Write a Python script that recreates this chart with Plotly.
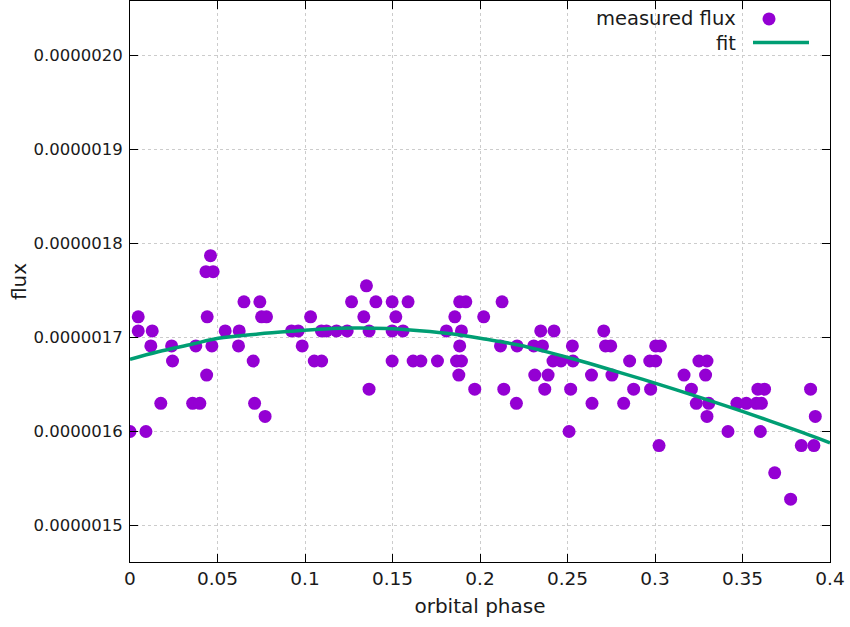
import plotly.graph_objects as go

# measured data (orbital phase, flux in units of 1e-6)
phase = [0.0000, 0.0047, 0.0047, 0.0091, 0.0127, 0.0119, 0.0176, 0.0238, 0.0243, 0.0358,
         0.0399, 0.0376, 0.0441, 0.0434, 0.0475, 0.0460, 0.0438, 0.0468, 0.0544, 0.0624,
         0.0620, 0.0651, 0.0704, 0.0712, 0.0772, 0.0742, 0.0752, 0.0780, 0.0923, 0.0961,
         0.0984, 0.1032, 0.1053, 0.1095, 0.1094, 0.1123, 0.1180, 0.1241, 0.1266, 0.1351,
         0.1336, 0.1366, 0.1405, 0.1366, 0.1498, 0.1519, 0.1498, 0.1560, 0.1589, 0.1498,
         0.1618, 0.1662, 0.1757, 0.1808, 0.1856, 0.1884, 0.1919, 0.1894, 0.1884, 0.1866,
         0.1894, 0.1879, 0.2021, 0.2126, 0.1970, 0.2117, 0.2212, 0.2136, 0.2208, 0.2347,
         0.2423, 0.2307, 0.2357, 0.2417, 0.2463, 0.2528, 0.2531, 0.2313, 0.2389, 0.2370,
         0.2518, 0.2509, 0.2637, 0.2640, 0.2707, 0.2717, 0.2747, 0.2754, 0.2821, 0.2855,
         0.2878, 0.3004, 0.3031, 0.2970, 0.3004, 0.2975, 0.3023, 0.3166, 0.3208, 0.3251,
         0.3297, 0.3289, 0.3236, 0.3307, 0.3297, 0.3417, 0.3468, 0.3522, 0.3579, 0.3608,
         0.3588, 0.3626, 0.3602, 0.3684, 0.3775, 0.3836, 0.3908, 0.3889, 0.3916]
flux_e6 = [1.600, 1.722, 1.707, 1.600, 1.707, 1.691, 1.630, 1.691, 1.675, 1.630,
           1.630, 1.691, 1.722, 1.770, 1.770, 1.787, 1.660, 1.691, 1.707, 1.707,
           1.691, 1.738, 1.675, 1.630, 1.616, 1.738, 1.722, 1.722, 1.707, 1.707,
           1.691, 1.722, 1.675, 1.675, 1.707, 1.707, 1.707, 1.707, 1.738, 1.755,
           1.722, 1.707, 1.738, 1.645, 1.738, 1.722, 1.707, 1.707, 1.738, 1.675,
           1.675, 1.675, 1.675, 1.707, 1.722, 1.738, 1.738, 1.707, 1.691, 1.675,
           1.675, 1.660, 1.722, 1.738, 1.645, 1.691, 1.691, 1.645, 1.630, 1.707,
           1.707, 1.691, 1.691, 1.675, 1.675, 1.691, 1.675, 1.660, 1.660, 1.645,
           1.645, 1.600, 1.660, 1.630, 1.707, 1.691, 1.691, 1.660, 1.630, 1.675,
           1.645, 1.691, 1.691, 1.675, 1.675, 1.645, 1.585, 1.660, 1.645, 1.675,
           1.675, 1.660, 1.630, 1.630, 1.616, 1.600, 1.630, 1.630, 1.630, 1.630,
           1.645, 1.645, 1.600, 1.556, 1.528, 1.585, 1.585, 1.645, 1.616]

# fitted curve
fit_phase = [0.0000, 0.0161, 0.0352, 0.0504, 0.0732, 0.0923, 0.1113, 0.1275, 0.1466,
             0.1656, 0.1846, 0.2037, 0.2227, 0.2360, 0.2551, 0.2741, 0.2931, 0.3100,
             0.3274, 0.3465, 0.3655, 0.3845, 0.4000]
fit_flux_e6 = [1.6768, 1.6849, 1.6928, 1.6991, 1.7037, 1.7066, 1.7090, 1.7100, 1.7095,
               1.7072, 1.7037, 1.6981, 1.6918, 1.6858, 1.6763, 1.6660, 1.6554, 1.6456,
               1.6352, 1.6236, 1.6114, 1.5987, 1.5879]

y_ticks_e6 = [1.5, 1.6, 1.7, 1.8, 1.9, 2.0]
x_ticks = [0, 0.05, 0.1, 0.15, 0.2, 0.25, 0.3, 0.35, 0.4]
x_tick_labels = ["0", "0.05", "0.1", "0.15", "0.2", "0.25", "0.3", "0.35", "0.4"]
series_names = ["measured flux", "fit"]

PURPLE = "#9400D3"
GREEN = "#009E73"
FONT = "DejaVu Sans"
TXT = "#1a1a1a"

flux = [v * 1e-6 for v in flux_e6]
fit_flux = [v * 1e-6 for v in fit_flux_e6]
y_ticks = [v * 1e-6 for v in y_ticks_e6]

fig = go.Figure()
fig.add_trace(go.Scatter(x=phase, y=flux, mode="markers", name=series_names[0],
                         marker=dict(color=PURPLE, size=13, line=dict(width=0)),
                         showlegend=False))
fig.add_trace(go.Scatter(x=fit_phase, y=fit_flux, mode="lines", name=series_names[1],
                         line=dict(color=GREEN, width=3.5, shape="spline", smoothing=1.0),
                         showlegend=False))

axis_common = dict(showline=True, linecolor="black", linewidth=1, mirror="ticks",
                   ticks="inside", ticklen=8, tickcolor="black", tickwidth=1,
                   showgrid=True, gridcolor="#cccccc", griddash="dot", gridwidth=1,
                   zeroline=False)

fig.update_xaxes(range=[0, 0.4], tickvals=x_ticks, ticktext=x_tick_labels,
                 title=dict(text="orbital phase", font=dict(family=FONT, size=20, color=TXT),
                            standoff=10),
                 tickfont=dict(family=FONT, size=18.5, color=TXT), **axis_common)
fig.update_yaxes(range=[1.46117e-6, 2.05798e-6], tickvals=y_ticks,
                 tickformat=".7f",
                 title=dict(text="flux", font=dict(family=FONT, size=20, color=TXT),
                            standoff=1),
                 tickfont=dict(family=FONT, size=16.5, color=TXT),
                 ticklabelstandoff=3, **axis_common)

# gnuplot-style key: text right-aligned, sample to the right
fig.add_annotation(xref="paper", yref="paper", x=0.8686, y=0.968, xanchor="right",
                   yanchor="middle", text=series_names[0], showarrow=False,
                   font=dict(family=FONT, size=19.5, color=TXT))
fig.add_annotation(xref="paper", yref="paper", x=0.8686, y=0.925, xanchor="right",
                   yanchor="middle", text=series_names[1], showarrow=False,
                   font=dict(family=FONT, size=19.5, color=TXT))
fig.add_shape(type="circle", xref="paper", yref="paper", xsizemode="pixel",
              ysizemode="pixel", xanchor=0.9129, yanchor=0.9680, x0=-6.5, x1=6.5,
              y0=-6.5, y1=6.5, fillcolor=PURPLE, line=dict(width=0))
fig.add_shape(type="line", xref="paper", yref="paper", x0=0.89, x1=0.9700,
              y0=0.9260, y1=0.9260, line=dict(color=GREEN, width=3.5))

fig.update_layout(width=850, height=627, margin=dict(l=130, r=20, t=1, b=65),
                  plot_bgcolor="white", paper_bgcolor="white",
                  font=dict(family=FONT, color=TXT))

fig.write_html("out.html")
